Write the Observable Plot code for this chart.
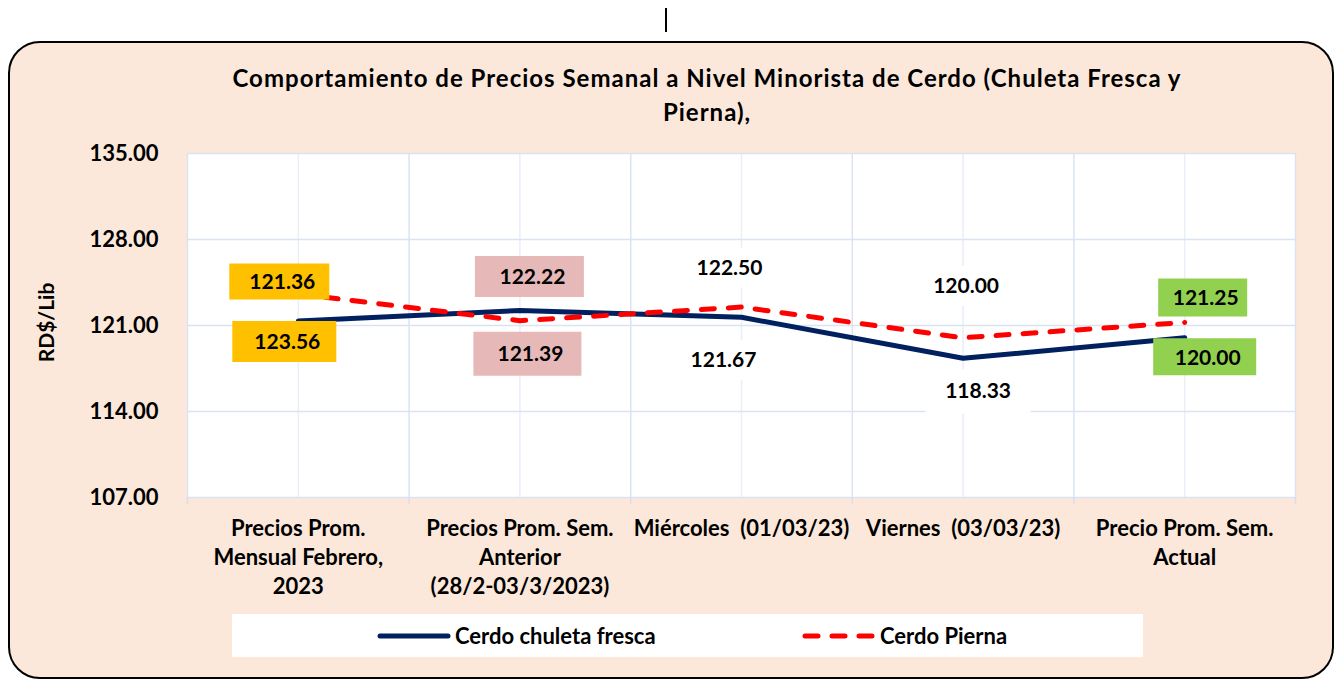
<!DOCTYPE html>
<html>
<head>
<meta charset="utf-8">
<script src="https://cdn.jsdelivr.net/npm/d3@7"></script>
<script src="https://cdn.jsdelivr.net/npm/@observablehq/plot@0.6"></script>
<style>
  html, body { margin: 0; padding: 0; background: #ffffff; }
  body { width: 1340px; height: 679px; position: relative; overflow: hidden; font-family: Lato, "Open Sans", sans-serif; }
  #cursor { position: absolute; left: 665px; top: 8px; width: 2px; height: 24px; background: #000; }
  #frame { position: absolute; left: 8px; top: 41px; width: 1322px; height: 634px; border: 2px solid #000; border-radius: 32px; background: #FCE8DA; }
  #title { position: absolute; left: 157px; width: 1100px; top: 61px; text-align: center; font-weight: 700; font-size: 24px; letter-spacing: 1px; line-height: 34px; color: #000; }
  #chart { position: absolute; left: 0; top: 140px; }
  #legend { position: absolute; left: 232px; top: 614px; width: 911px; height: 43px; background: #fff; }
  #legend .lab { position: absolute; top: 0; line-height: 43px; font-weight: 700; font-size: 22px; color: #000; }
</style>
</head>
<body>
<div id="cursor"></div>
<div id="frame"></div>
<div id="title">Comportamiento de Precios Semanal a Nivel Minorista de Cerdo (Chuleta Fresca y<br>Pierna),</div>
<div id="chart"></div>
<div id="legend">
  <svg width="911" height="43" style="position:absolute;left:0;top:0">
    <line x1="148" x2="216" y1="22" y2="22" stroke="#002060" stroke-width="5" stroke-linecap="round"></line>
    <line x1="573" x2="643" y1="22" y2="22" stroke="#FF0000" stroke-width="5" stroke-linecap="round" stroke-dasharray="13,14"></line>
  </svg>
  <span class="lab" style="left:223px">Cerdo chuleta fresca</span>
  <span class="lab" style="left:648px">Cerdo Pierna</span>
</div>
<script>
// ---- data ----
const categories = [
  "Precios Prom.\nMensual Febrero,\n2023",
  "Precios Prom. Sem.\nAnterior\n(28/2-03/3/2023)",
  "Miércoles  (01/03/23)",
  "Viernes  (03/03/23)",
  "Precio Prom. Sem.\nActual"
];
const chuleta = [121.36, 122.22, 121.67, 118.33, 120.00];
const pierna  = [123.56, 121.39, 122.50, 120.00, 121.25];
const upperLabels = ["121.36", "122.22", "122.50", "120.00", "121.25"];
const lowerLabels = ["123.56", "121.39", "121.67", "118.33", "120.00"];
const yTicks = [107, 114, 121, 128, 135];

// ---- layout / style of data labels ----
const upperLayout = [
  {dx: -16, dy: -11.5, w: 100, h: 36, fill: "#FFC000"},
  {dx: 12.5, dy: -33, w: 109, h: 41, fill: "#E6B8B7"},
  {dx: -12, dy: -38.6, w: 100, h: 40, fill: "#FFFFFF"},
  {dx: 3, dy: -52, w: 100, h: 40, fill: "#FFFFFF"},
  {dx: 21, dy: -24, w: 89, h: 38, fill: "#92D050"}
];
const lowerLayout = [
  {dx: -11, dy: 21.5, w: 104, h: 41, fill: "#FFC000"},
  {dx: 10.5, dy: 34, w: 108, h: 44, fill: "#E6B8B7"},
  {dx: -18, dy: 43, w: 100, h: 40, fill: "#FFFFFF"},
  {dx: 15, dy: 33, w: 105, h: 44, fill: "#FFFFFF"},
  {dx: 23, dy: 20, w: 103, h: 37, fill: "#92D050"}
];

const idx = categories.map((_, i) => i);
const seriesRows = idx.flatMap(i => [
  {i, v: chuleta[i], s: "Cerdo chuleta fresca"},
  {i, v: pierna[i], s: "Cerdo Pierna"}
]);
const upperRows = idx.map(i => ({i, v: Math.max(chuleta[i], pierna[i]), t: upperLabels[i], L: upperLayout[i]}));
const lowerRows = idx.map(i => ({i, v: Math.min(chuleta[i], pierna[i]), t: lowerLabels[i], L: lowerLayout[i]}));
const boundaries = d3.range(-0.5, categories.length, 1);

function boxMarks(rows) {
  return rows.map(r => Plot.dot([r], {
    x: "i", y: "v", r: 1,
    dx: r.L.dx - (r.L.fill === "#FFFFFF" ? 0 : 3), dy: r.L.dy - (r.L.fill === "#FFFFFF" ? 0 : 1),
    fill: r.L.fill, stroke: "none",
    symbol: {draw(ctx) { ctx.rect(-r.L.w / 2, -r.L.h / 2, r.L.w, r.L.h); }}
  }));
}
function textMarks(rows) {
  return rows.map(r => Plot.text([r], {
    x: "i", y: "v", text: "t", dx: r.L.dx, dy: r.L.dy,
    fontSize: 21, fontWeight: 700, fill: "#000", lineAnchor: "middle"
  }));
}

const chart = Plot.plot({
  width: 1340,
  height: 470,
  marginLeft: 187,
  marginRight: 45,
  marginTop: 13,
  marginBottom: 113,
  style: {background: "transparent", fontFamily: "Lato, 'Open Sans', sans-serif", color: "#000"},
  x: {type: "linear", domain: [-0.5, categories.length - 0.5], axis: null, label: null},
  y: {domain: [107, 135], axis: null, label: null},
  marks: [
    Plot.frame({fill: "#FFFFFF", stroke: "none"}),
    Plot.ruleX(idx, {stroke: "#E9EFF8", strokeWidth: 1.5}),
    Plot.ruleX(boundaries, {stroke: "#DAE3F1", strokeWidth: 1.5}),
    Plot.ruleY(yTicks, {stroke: "#DAE3F1", strokeWidth: 1.5}),
    Plot.axisX(boundaries, {tickSize: 7, tickFormat: () => "", stroke: "#D5DFEE", strokeWidth: 1.5, label: null}),
    Plot.axisY(yTicks, {tickSize: 0, tickPadding: 29, tickFormat: d3.format(".2f"), fontSize: 22, fontWeight: 700, label: null}),
    Plot.text(["RD$/Lib"], {frameAnchor: "left", textAnchor: "middle", lineAnchor: "middle", rotate: -90, dx: -140, dy: -3, fontSize: 21, fontWeight: 700, fill: "#000"}),
    Plot.text(idx, {x: d => d, y: 107, text: d => categories[d], dy: 18, lineAnchor: "top", lineHeight: 1.32, fontSize: 22, fontWeight: 700, fill: "#000"}),
    Plot.line(seriesRows.filter(d => d.s === "Cerdo chuleta fresca"), {x: "i", y: "v", stroke: "#002060", strokeWidth: 5, strokeLinecap: "round", strokeLinejoin: "round"}),
    Plot.line(seriesRows.filter(d => d.s === "Cerdo Pierna"), {x: "i", y: "v", stroke: "#FF0000", strokeWidth: 5, strokeDasharray: "13,14", strokeLinecap: "round", strokeLinejoin: "round"}),
    ...boxMarks(upperRows),
    ...boxMarks(lowerRows),
    ...textMarks(upperRows),
    ...textMarks(lowerRows)
  ]
});
document.getElementById("chart").appendChild(chart);
</script>
</body>
</html>
